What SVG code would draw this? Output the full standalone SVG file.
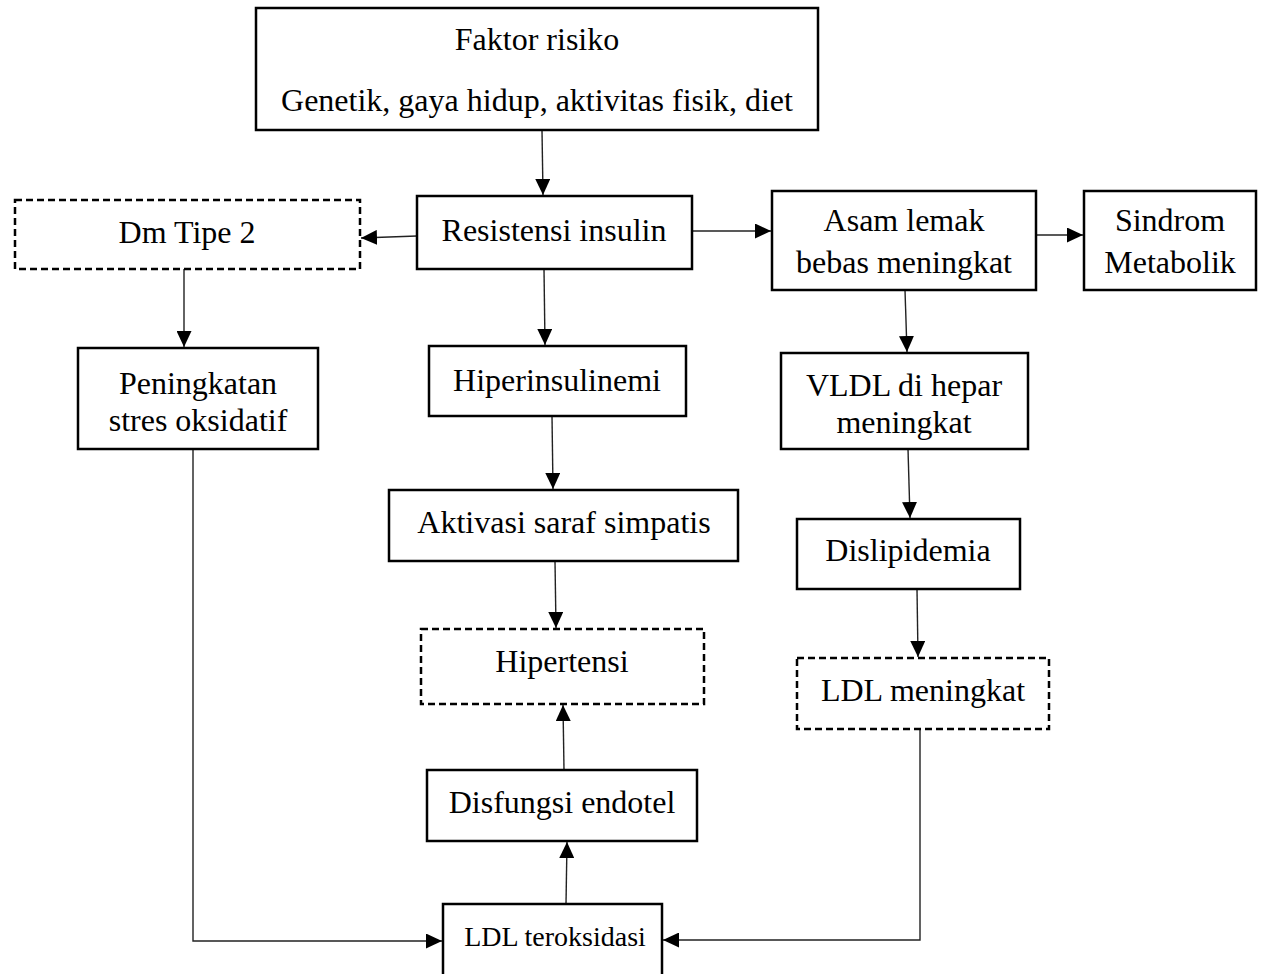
<svg xmlns="http://www.w3.org/2000/svg" width="1269" height="974" viewBox="0 0 1269 974">
<defs>
<marker id="ah" viewBox="0 0 10 10" refX="10" refY="5" markerWidth="16" markerHeight="15" markerUnits="userSpaceOnUse" orient="auto" preserveAspectRatio="none">
<path d="M0,0 L10,5 L0,10 Z" fill="#000"/>
</marker>
<style>
.box{fill:#fff;stroke:#000;stroke-width:2.5}
.dash{fill:#fff;stroke:#000;stroke-width:2.5;stroke-dasharray:7 4}
.t{font-family:"Liberation Serif","Times New Roman",serif;font-size:32px;fill:#000;text-anchor:middle}
.c{fill:none;stroke:#222;stroke-width:1.4;marker-end:url(#ah)}
</style>
</defs>
<rect width="1269" height="974" fill="#fff"/>
<g id="connectors">
<line class="c" x1="542" y1="130" x2="543" y2="195"/>
<line class="c" x1="417" y1="236" x2="361" y2="238"/>
<line class="c" x1="692" y1="231" x2="771" y2="231"/>
<line class="c" x1="1036" y1="235" x2="1083" y2="235"/>
<line class="c" x1="184" y1="269" x2="184" y2="347"/>
<line class="c" x1="544" y1="269" x2="545" y2="345"/>
<line class="c" x1="905" y1="290" x2="907" y2="352"/>
<line class="c" x1="552" y1="416" x2="553" y2="489"/>
<line class="c" x1="908" y1="449" x2="910" y2="518"/>
<line class="c" x1="555" y1="561" x2="556" y2="628"/>
<line class="c" x1="917" y1="589" x2="918" y2="657"/>
<line class="c" x1="564" y1="770" x2="563" y2="705"/>
<line class="c" x1="566" y1="904" x2="567" y2="842"/>
<polyline class="c" points="193,449 193,941 442,941"/>
<polyline class="c" points="920,729 920,940 663,940"/>
</g>
<g id="n-faktor"><rect class="box" x="256" y="8" width="562" height="122"/>
<text class="t" x="537" y="50">Faktor risiko</text>
<text class="t" x="537" y="111">Genetik, gaya hidup, aktivitas fisik, diet</text></g>
<g id="n-dm"><rect class="dash" x="15" y="200" width="345" height="69"/>
<text class="t" x="187" y="243">Dm Tipe 2</text></g>
<g id="n-resistensi"><rect class="box" x="417" y="196" width="275" height="73"/>
<text class="t" x="554" y="241">Resistensi insulin</text></g>
<g id="n-asam"><rect class="box" x="772" y="191" width="264" height="99"/>
<text class="t" x="904" y="231">Asam lemak</text>
<text class="t" x="904" y="273">bebas meningkat</text></g>
<g id="n-sindrom"><rect class="box" x="1084" y="191" width="172" height="99"/>
<text class="t" x="1170" y="231">Sindrom</text>
<text class="t" x="1170" y="273">Metabolik</text></g>
<g id="n-peningkatan"><rect class="box" x="78" y="348" width="240" height="101"/>
<text class="t" x="198" y="394">Peningkatan</text>
<text class="t" x="198" y="431">stres oksidatif</text></g>
<g id="n-hiperinsulinemi"><rect class="box" x="429" y="346" width="257" height="70"/>
<text class="t" x="557" y="391">Hiperinsulinemi</text></g>
<g id="n-vldl"><rect class="box" x="781" y="353" width="247" height="96"/>
<text class="t" x="904" y="396">VLDL di hepar</text>
<text class="t" x="904" y="433">meningkat</text></g>
<g id="n-aktivasi"><rect class="box" x="389" y="490" width="349" height="71"/>
<text class="t" x="564" y="533">Aktivasi saraf simpatis</text></g>
<g id="n-dislipidemia"><rect class="box" x="797" y="519" width="223" height="70"/>
<text class="t" x="908" y="561">Dislipidemia</text></g>
<g id="n-hipertensi"><rect class="dash" x="421" y="629" width="283" height="75"/>
<text class="t" x="562" y="672">Hipertensi</text></g>
<g id="n-ldlmeningkat"><rect class="dash" x="797" y="658" width="252" height="71"/>
<text class="t" x="923" y="701">LDL meningkat</text></g>
<g id="n-disfungsi"><rect class="box" x="427" y="770" width="270" height="71"/>
<text class="t" x="562" y="813">Disfungsi endotel</text></g>
<g id="n-ldlteroksidasi"><rect class="box" x="443" y="904" width="219" height="80"/>
<text class="t" x="555" y="946" style="font-size:28px">LDL teroksidasi</text></g>
</svg>
